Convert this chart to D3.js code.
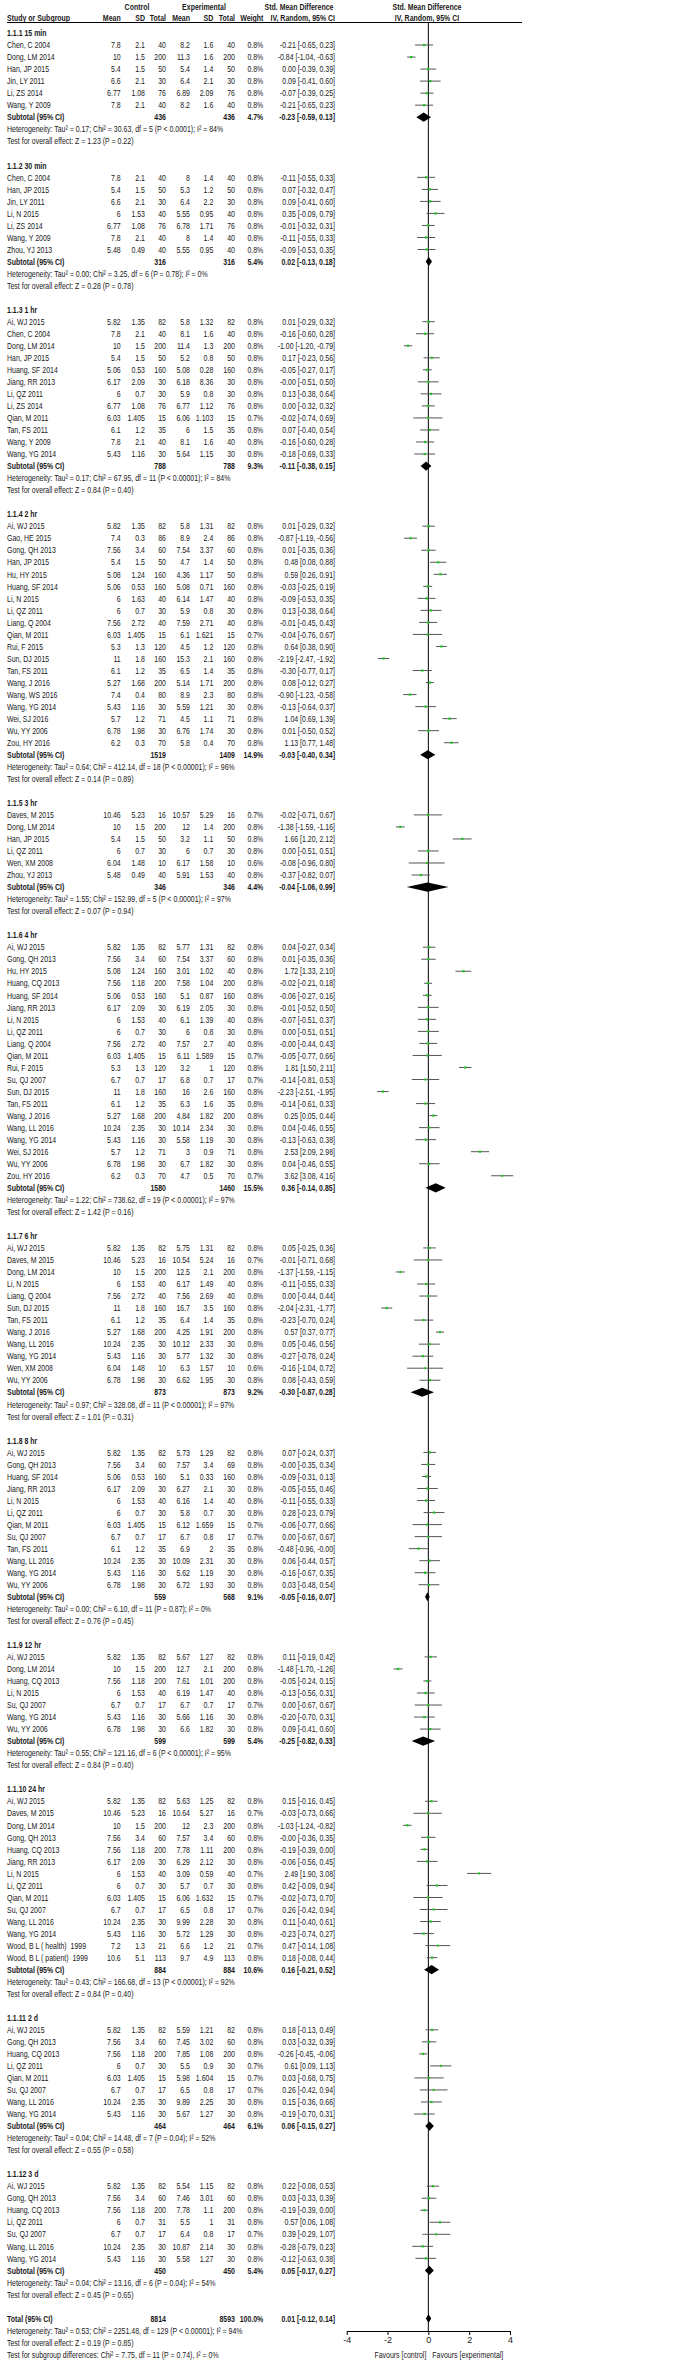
<!DOCTYPE html>
<html lang="en">
<head>
<meta charset="UTF-8">
<title>Std. Mean Difference forest plot</title>
<script src="https://d3js.org/d3.v7.min.js"></script>
<style>
  body { margin: 0; background: #fff; }
  svg text { font-family: "Liberation Sans", Arial, sans-serif; font-size: 9px; fill: #1a1a1a; white-space: pre; }
  .b { font-weight: bold; }
</style>
</head>
<body>
<svg width="689" height="2365"></svg>
<script>
// study, control mean, sd, total, experimental mean, sd, total, weight %, SMD, lower, upper
var min15 = [
  ["Chen, C 2004", 7.8, 2.1, 40, 8.2, 1.6, 40, 0.8, -0.21, -0.65, 0.23],
  ["Dong, LM 2014", 10, 1.5, 200, 11.3, 1.6, 200, 0.8, -0.84, -1.04, -0.63],
  ["Han, JP 2015", 5.4, 1.5, 50, 5.4, 1.4, 50, 0.8, 0, -0.39, 0.39],
  ["Jin, LY 2011", 6.6, 2.1, 30, 6.4, 2.1, 30, 0.8, 0.09, -0.41, 0.60],
  ["Li, ZS 2014", 6.77, 1.08, 76, 6.89, 2.09, 76, 0.8, -0.07, -0.39, 0.25],
  ["Wang, Y 2009", 7.8, 2.1, 40, 8.2, 1.6, 40, 0.8, -0.21, -0.65, 0.23]
];
var min30 = [
  ["Chen, C 2004", 7.8, 2.1, 40, 8, 1.4, 40, 0.8, -0.11, -0.55, 0.33],
  ["Han, JP 2015", 5.4, 1.5, 50, 5.3, 1.2, 50, 0.8, 0.07, -0.32, 0.47],
  ["Jin, LY 2011", 6.6, 2.1, 30, 6.4, 2.2, 30, 0.8, 0.09, -0.41, 0.60],
  ["Li, N 2015", 6, 1.53, 40, 5.55, 0.95, 40, 0.8, 0.35, -0.09, 0.79],
  ["Li, ZS 2014", 6.77, 1.08, 76, 6.78, 1.71, 76, 0.8, -0.01, -0.32, 0.31],
  ["Wang, Y 2009", 7.8, 2.1, 40, 8, 1.4, 40, 0.8, -0.11, -0.55, 0.33],
  ["Zhou, YJ 2013", 5.48, 0.49, 40, 5.55, 0.95, 40, 0.8, -0.09, -0.53, 0.35]
];
var hr1 = [
  ["Ai, WJ 2015", 5.82, 1.35, 82, 5.8, 1.32, 82, 0.8, 0.01, -0.29, 0.32],
  ["Chen, C 2004", 7.8, 2.1, 40, 8.1, 1.6, 40, 0.8, -0.16, -0.60, 0.28],
  ["Dong, LM 2014", 10, 1.5, 200, 11.4, 1.3, 200, 0.8, -1.00, -1.20, -0.79],
  ["Han, JP 2015", 5.4, 1.5, 50, 5.2, 0.8, 50, 0.8, 0.17, -0.23, 0.56],
  ["Huang, SF 2014", 5.06, 0.53, 160, 5.08, 0.28, 160, 0.8, -0.05, -0.27, 0.17],
  ["Jiang, RR 2013", 6.17, 2.09, 30, 6.18, 8.36, 30, 0.8, -0, -0.51, 0.50],
  ["Li, QZ 2011", 6, 0.7, 30, 5.9, 0.8, 30, 0.8, 0.13, -0.38, 0.64],
  ["Li, ZS 2014", 6.77, 1.08, 76, 6.77, 1.12, 76, 0.8, 0, -0.32, 0.32],
  ["Qian, M 2011", 6.03, 1.405, 15, 6.06, 1.103, 15, 0.7, -0.02, -0.74, 0.69],
  ["Tan, FS 2011", 6.1, 1.2, 35, 6, 1.5, 35, 0.8, 0.07, -0.40, 0.54],
  ["Wang, Y 2009", 7.8, 2.1, 40, 8.1, 1.6, 40, 0.8, -0.16, -0.60, 0.28],
  ["Wang, YG 2014", 5.43, 1.16, 30, 5.64, 1.15, 30, 0.8, -0.18, -0.69, 0.33]
];
var hr2 = [
  ["Ai, WJ 2015", 5.82, 1.35, 82, 5.8, 1.31, 82, 0.8, 0.01, -0.29, 0.32],
  ["Gao, HE 2015", 7.4, 0.3, 86, 8.9, 2.4, 86, 0.8, -0.87, -1.19, -0.56],
  ["Gong, QH 2013", 7.56, 3.4, 60, 7.54, 3.37, 60, 0.8, 0.01, -0.35, 0.36],
  ["Han, JP 2015", 5.4, 1.5, 50, 4.7, 1.4, 50, 0.8, 0.48, 0.08, 0.88],
  ["Hu, HY 2015", 5.08, 1.24, 160, 4.36, 1.17, 50, 0.8, 0.59, 0.26, 0.91],
  ["Huang, SF 2014", 5.06, 0.53, 160, 5.08, 0.71, 160, 0.8, -0.03, -0.25, 0.19],
  ["Li, N 2015", 6, 1.63, 40, 6.14, 1.47, 40, 0.8, -0.09, -0.53, 0.35],
  ["Li, QZ 2011", 6, 0.7, 30, 5.9, 0.8, 30, 0.8, 0.13, -0.38, 0.64],
  ["Liang, Q 2004", 7.56, 2.72, 40, 7.59, 2.71, 40, 0.8, -0.01, -0.45, 0.43],
  ["Qian, M 2011", 6.03, 1.405, 15, 6.1, 1.621, 15, 0.7, -0.04, -0.76, 0.67],
  ["Rui, F 2015", 5.3, 1.3, 120, 4.5, 1.2, 120, 0.8, 0.64, 0.38, 0.90],
  ["Sun, DJ 2015", 11, 1.8, 160, 15.3, 2.1, 160, 0.8, -2.19, -2.47, -1.92],
  ["Tan, FS 2011", 6.1, 1.2, 35, 6.5, 1.4, 35, 0.8, -0.30, -0.77, 0.17],
  ["Wang, J 2016", 5.27, 1.68, 200, 5.14, 1.71, 200, 0.8, 0.08, -0.12, 0.27],
  ["Wang, WS 2016", 7.4, 0.4, 80, 8.9, 2.3, 80, 0.8, -0.90, -1.23, -0.58],
  ["Wang, YG 2014", 5.43, 1.16, 30, 5.59, 1.21, 30, 0.8, -0.13, -0.64, 0.37],
  ["Wei, SJ 2016", 5.7, 1.2, 71, 4.5, 1.1, 71, 0.8, 1.04, 0.69, 1.39],
  ["Wu, YY 2006", 6.78, 1.98, 30, 6.76, 1.74, 30, 0.8, 0.01, -0.50, 0.52],
  ["Zou, HY 2016", 6.2, 0.3, 70, 5.8, 0.4, 70, 0.8, 1.13, 0.77, 1.48]
];
var hr3 = [
  ["Daves, M 2015", 10.46, 5.23, 16, 10.57, 5.29, 16, 0.7, -0.02, -0.71, 0.67],
  ["Dong, LM 2014", 10, 1.5, 200, 12, 1.4, 200, 0.8, -1.38, -1.59, -1.16],
  ["Han, JP 2015", 5.4, 1.5, 50, 3.2, 1.1, 50, 0.8, 1.66, 1.20, 2.12],
  ["Li, QZ 2011", 6, 0.7, 30, 6, 0.7, 30, 0.8, 0, -0.51, 0.51],
  ["Wen, XM 2008", 6.04, 1.48, 10, 6.17, 1.58, 10, 0.6, -0.08, -0.96, 0.80],
  ["Zhou, YJ 2013", 5.48, 0.49, 40, 5.91, 1.53, 40, 0.8, -0.37, -0.82, 0.07]
];
var hr4 = [
  ["Ai, WJ 2015", 5.82, 1.35, 82, 5.77, 1.31, 82, 0.8, 0.04, -0.27, 0.34],
  ["Gong, QH 2013", 7.56, 3.4, 60, 7.54, 3.37, 60, 0.8, 0.01, -0.35, 0.36],
  ["Hu, HY 2015", 5.08, 1.24, 160, 3.01, 1.02, 40, 0.8, 1.72, 1.33, 2.10],
  ["Huang, CQ 2013", 7.56, 1.18, 200, 7.58, 1.04, 200, 0.8, -0.02, -0.21, 0.18],
  ["Huang, SF 2014", 5.06, 0.53, 160, 5.1, 0.87, 160, 0.8, -0.06, -0.27, 0.16],
  ["Jiang, RR 2013", 6.17, 2.09, 30, 6.19, 2.05, 30, 0.8, -0.01, -0.52, 0.50],
  ["Li, N 2015", 6, 1.53, 40, 6.1, 1.39, 40, 0.8, -0.07, -0.51, 0.37],
  ["Li, QZ 2011", 6, 0.7, 30, 6, 0.8, 30, 0.8, 0, -0.51, 0.51],
  ["Liang, Q 2004", 7.56, 2.72, 40, 7.57, 2.7, 40, 0.8, -0, -0.44, 0.43],
  ["Qian, M 2011", 6.03, 1.405, 15, 6.11, 1.589, 15, 0.7, -0.05, -0.77, 0.66],
  ["Rui, F 2015", 5.3, 1.3, 120, 3.2, 1, 120, 0.8, 1.81, 1.50, 2.11],
  ["Su, QJ 2007", 6.7, 0.7, 17, 6.8, 0.7, 17, 0.7, -0.14, -0.81, 0.53],
  ["Sun, DJ 2015", 11, 1.8, 160, 16, 2.6, 160, 0.8, -2.23, -2.51, -1.95],
  ["Tan, FS 2011", 6.1, 1.2, 35, 6.3, 1.6, 35, 0.8, -0.14, -0.61, 0.33],
  ["Wang, J 2016", 5.27, 1.68, 200, 4.84, 1.82, 200, 0.8, 0.25, 0.05, 0.44],
  ["Wang, LL 2016", 10.24, 2.35, 30, 10.14, 2.34, 30, 0.8, 0.04, -0.46, 0.55],
  ["Wang, YG 2014", 5.43, 1.16, 30, 5.58, 1.19, 30, 0.8, -0.13, -0.63, 0.38],
  ["Wei, SJ 2016", 5.7, 1.2, 71, 3, 0.9, 71, 0.8, 2.53, 2.09, 2.98],
  ["Wu, YY 2006", 6.78, 1.98, 30, 6.7, 1.82, 30, 0.8, 0.04, -0.46, 0.55],
  ["Zou, HY 2016", 6.2, 0.3, 70, 4.7, 0.5, 70, 0.7, 3.62, 3.08, 4.16]
];
var hr6 = [
  ["Ai, WJ 2015", 5.82, 1.35, 82, 5.75, 1.31, 82, 0.8, 0.05, -0.25, 0.36],
  ["Daves, M 2015", 10.46, 5.23, 16, 10.54, 5.24, 16, 0.7, -0.01, -0.71, 0.68],
  ["Dong, LM 2014", 10, 1.5, 200, 12.5, 2.1, 200, 0.8, -1.37, -1.59, -1.15],
  ["Li, N 2015", 6, 1.53, 40, 6.17, 1.49, 40, 0.8, -0.11, -0.55, 0.33],
  ["Liang, Q 2004", 7.56, 2.72, 40, 7.56, 2.69, 40, 0.8, 0, -0.44, 0.44],
  ["Sun, DJ 2015", 11, 1.8, 160, 16.7, 3.5, 160, 0.8, -2.04, -2.31, -1.77],
  ["Tan, FS 2011", 6.1, 1.2, 35, 6.4, 1.4, 35, 0.8, -0.23, -0.70, 0.24],
  ["Wang, J 2016", 5.27, 1.68, 200, 4.25, 1.91, 200, 0.8, 0.57, 0.37, 0.77],
  ["Wang, LL 2016", 10.24, 2.35, 30, 10.12, 2.33, 30, 0.8, 0.05, -0.46, 0.56],
  ["Wang, YG 2014", 5.43, 1.16, 30, 5.77, 1.32, 30, 0.8, -0.27, -0.78, 0.24],
  ["Wen, XM 2008", 6.04, 1.48, 10, 6.3, 1.57, 10, 0.6, -0.16, -1.04, 0.72],
  ["Wu, YY 2006", 6.78, 1.98, 30, 6.62, 1.95, 30, 0.8, 0.08, -0.43, 0.59]
];
var hr8 = [
  ["Ai, WJ 2015", 5.82, 1.35, 82, 5.73, 1.29, 82, 0.8, 0.07, -0.24, 0.37],
  ["Gong, QH 2013", 7.56, 3.4, 60, 7.57, 3.4, 69, 0.8, -0, -0.35, 0.34],
  ["Huang, SF 2014", 5.06, 0.53, 160, 5.1, 0.33, 160, 0.8, -0.09, -0.31, 0.13],
  ["Jiang, RR 2013", 6.17, 2.09, 30, 6.27, 2.1, 30, 0.8, -0.05, -0.55, 0.46],
  ["Li, N 2015", 6, 1.53, 40, 6.16, 1.4, 40, 0.8, -0.11, -0.55, 0.33],
  ["Li, QZ 2011", 6, 0.7, 30, 5.8, 0.7, 30, 0.8, 0.28, -0.23, 0.79],
  ["Qian, M 2011", 6.03, 1.405, 15, 6.12, 1.659, 15, 0.7, -0.06, -0.77, 0.66],
  ["Su, QJ 2007", 6.7, 0.7, 17, 6.7, 0.8, 17, 0.7, 0, -0.67, 0.67],
  ["Tan, FS 2011", 6.1, 1.2, 35, 6.9, 2, 35, 0.8, -0.48, -0.96, -0],
  ["Wang, LL 2016", 10.24, 2.35, 30, 10.09, 2.31, 30, 0.8, 0.06, -0.44, 0.57],
  ["Wang, YG 2014", 5.43, 1.16, 30, 5.62, 1.19, 30, 0.8, -0.16, -0.67, 0.35],
  ["Wu, YY 2006", 6.78, 1.98, 30, 6.72, 1.93, 30, 0.8, 0.03, -0.48, 0.54]
];
var hr12 = [
  ["Ai, WJ 2015", 5.82, 1.35, 82, 5.67, 1.27, 82, 0.8, 0.11, -0.19, 0.42],
  ["Dong, LM 2014", 10, 1.5, 200, 12.7, 2.1, 200, 0.8, -1.48, -1.70, -1.26],
  ["Huang, CQ 2013", 7.56, 1.18, 200, 7.61, 1.01, 200, 0.8, -0.05, -0.24, 0.15],
  ["Li, N 2015", 6, 1.53, 40, 6.19, 1.47, 40, 0.8, -0.13, -0.56, 0.31],
  ["Su, QJ 2007", 6.7, 0.7, 17, 6.7, 0.7, 17, 0.7, 0, -0.67, 0.67],
  ["Wang, YG 2014", 5.43, 1.16, 30, 5.66, 1.16, 30, 0.8, -0.20, -0.70, 0.31],
  ["Wu, YY 2006", 6.78, 1.98, 30, 6.6, 1.82, 30, 0.8, 0.09, -0.41, 0.60]
];
var hr24 = [
  ["Ai, WJ 2015", 5.82, 1.35, 82, 5.63, 1.25, 82, 0.8, 0.15, -0.16, 0.45],
  ["Daves, M 2015", 10.46, 5.23, 16, 10.64, 5.27, 16, 0.7, -0.03, -0.73, 0.66],
  ["Dong, LM 2014", 10, 1.5, 200, 12, 2.3, 200, 0.8, -1.03, -1.24, -0.82],
  ["Gong, QH 2013", 7.56, 3.4, 60, 7.57, 3.4, 60, 0.8, -0, -0.36, 0.35],
  ["Huang, CQ 2013", 7.56, 1.18, 200, 7.78, 1.11, 200, 0.8, -0.19, -0.39, 0],
  ["Jiang, RR 2013", 6.17, 2.09, 30, 6.29, 2.12, 30, 0.8, -0.06, -0.56, 0.45],
  ["Li, N 2015", 6, 1.53, 40, 3.09, 0.59, 40, 0.7, 2.49, 1.90, 3.08],
  ["Li, QZ 2011", 6, 0.7, 30, 5.7, 0.7, 30, 0.8, 0.42, -0.09, 0.94],
  ["Qian, M 2011", 6.03, 1.405, 15, 6.06, 1.632, 15, 0.7, -0.02, -0.73, 0.70],
  ["Su, QJ 2007", 6.7, 0.7, 17, 6.5, 0.8, 17, 0.7, 0.26, -0.42, 0.94],
  ["Wang, LL 2016", 10.24, 2.35, 30, 9.99, 2.28, 30, 0.8, 0.11, -0.40, 0.61],
  ["Wang, YG 2014", 5.43, 1.16, 30, 5.72, 1.29, 30, 0.8, -0.23, -0.74, 0.27],
  ["Wood, B L ( health)  1999", 7.2, 1.3, 21, 6.6, 1.2, 21, 0.7, 0.47, -0.14, 1.08],
  ["Wood, B L ( patient)  1999", 10.6, 5.1, 113, 9.7, 4.9, 113, 0.8, 0.18, -0.08, 0.44]
];
var day2 = [
  ["Ai, WJ 2015", 5.82, 1.35, 82, 5.59, 1.21, 82, 0.8, 0.18, -0.13, 0.49],
  ["Gong, QH 2013", 7.56, 3.4, 60, 7.45, 3.02, 60, 0.8, 0.03, -0.32, 0.39],
  ["Huang, CQ 2013", 7.56, 1.18, 200, 7.85, 1.08, 200, 0.8, -0.26, -0.45, -0.06],
  ["Li, QZ 2011", 6, 0.7, 30, 5.5, 0.9, 30, 0.7, 0.61, 0.09, 1.13],
  ["Qian, M 2011", 6.03, 1.405, 15, 5.98, 1.604, 15, 0.7, 0.03, -0.68, 0.75],
  ["Su, QJ 2007", 6.7, 0.7, 17, 6.5, 0.8, 17, 0.7, 0.26, -0.42, 0.94],
  ["Wang, LL 2016", 10.24, 2.35, 30, 9.89, 2.25, 30, 0.8, 0.15, -0.36, 0.66],
  ["Wang, YG 2014", 5.43, 1.16, 30, 5.67, 1.27, 30, 0.8, -0.19, -0.70, 0.31]
];
var day3 = [
  ["Ai, WJ 2015", 5.82, 1.35, 82, 5.54, 1.15, 82, 0.8, 0.22, -0.08, 0.53],
  ["Gong, QH 2013", 7.56, 3.4, 60, 7.46, 3.01, 60, 0.8, 0.03, -0.33, 0.39],
  ["Huang, CQ 2013", 7.56, 1.18, 200, 7.78, 1.1, 200, 0.8, -0.19, -0.39, 0],
  ["Li, QZ 2011", 6, 0.7, 31, 5.5, 1, 31, 0.8, 0.57, 0.06, 1.08],
  ["Su, QJ 2007", 6.7, 0.7, 17, 6.4, 0.8, 17, 0.7, 0.39, -0.29, 1.07],
  ["Wang, LL 2016", 10.24, 2.35, 30, 10.87, 2.14, 30, 0.8, -0.28, -0.79, 0.23],
  ["Wang, YG 2014", 5.43, 1.16, 30, 5.58, 1.27, 30, 0.8, -0.12, -0.63, 0.38]
];

var subgroups = ["1.1.1 15 min", "1.1.2 30 min", "1.1.3 1 hr", "1.1.4 2 hr", "1.1.5 3 hr", "1.1.6 4 hr",
  "1.1.7 6 hr", "1.1.8 8 hr", "1.1.9 12 hr", "1.1.10 24 hr", "1.1.11 2 d", "1.1.12 3 d"];
var groupStudies = [min15, min30, hr1, hr2, hr3, hr4, hr6, hr8, hr12, hr24, day2, day3];
// control total, experimental total, weight %, SMD, lower, upper
var subtotals = [
  [436, 436, 4.7, -0.23, -0.59, 0.13],
  [316, 316, 5.4, 0.02, -0.13, 0.18],
  [788, 788, 9.3, -0.11, -0.38, 0.15],
  [1519, 1409, 14.9, -0.03, -0.40, 0.34],
  [346, 346, 4.4, -0.04, -1.06, 0.99],
  [1580, 1460, 15.5, 0.36, -0.14, 0.85],
  [873, 873, 9.2, -0.30, -0.87, 0.28],
  [559, 568, 9.1, -0.05, -0.16, 0.07],
  [599, 599, 5.4, -0.25, -0.82, 0.33],
  [884, 884, 10.6, 0.16, -0.21, 0.52],
  [464, 464, 6.1, 0.06, -0.15, 0.27],
  [450, 450, 5.4, 0.05, -0.17, 0.27]
];
var heterogeneity = [
  "Tau² = 0.17; Chi² = 30.63, df = 5 (P < 0.0001); I² = 84%",
  "Tau² = 0.00; Chi² = 3.25, df = 6 (P = 0.78); I² = 0%",
  "Tau² = 0.17; Chi² = 67.95, df = 11 (P < 0.00001); I² = 84%",
  "Tau² = 0.64; Chi² = 412.14, df = 18 (P < 0.00001); I² = 96%",
  "Tau² = 1.55; Chi² = 152.99, df = 5 (P < 0.00001); I² = 97%",
  "Tau² = 1.22; Chi² = 738.62, df = 19 (P < 0.00001); I² = 97%",
  "Tau² = 0.97; Chi² = 328.08, df = 11 (P < 0.00001); I² = 97%",
  "Tau² = 0.00; Chi² = 6.10, df = 11 (P = 0.87); I² = 0%",
  "Tau² = 0.55; Chi² = 121.16, df = 6 (P < 0.00001); I² = 95%",
  "Tau² = 0.43; Chi² = 166.68, df = 13 (P < 0.00001); I² = 92%",
  "Tau² = 0.04; Chi² = 14.48, df = 7 (P = 0.04); I² = 52%",
  "Tau² = 0.04; Chi² = 13.16, df = 6 (P = 0.04); I² = 54%"
];
var overallEffect = ["Z = 1.23 (P = 0.22)", "Z = 0.28 (P = 0.78)", "Z = 0.84 (P = 0.40)", "Z = 0.14 (P = 0.89)",
  "Z = 0.07 (P = 0.94)", "Z = 1.42 (P = 0.16)", "Z = 1.01 (P = 0.31)", "Z = 0.76 (P = 0.45)",
  "Z = 0.84 (P = 0.40)", "Z = 0.84 (P = 0.40)", "Z = 0.55 (P = 0.58)", "Z = 0.45 (P = 0.65)"];
var total = [8814, 8593, 100.0, 0.01, -0.12, 0.14];
var totalNotes = [
  "Heterogeneity: Tau² = 0.53; Chi² = 2251.48, df = 129 (P < 0.00001); I² = 94%",
  "Test for overall effect: Z = 0.19 (P = 0.85)",
  "Test for subgroup differences: Chi² = 7.75, df = 11 (P = 0.74), I² = 0%"
];
var xTicks = [-4, -2, 0, 2, 4];

(function() {
    var svg = d3.select("svg");
    var squeeze = 0.775; // narrow face look

    // text helper: condensed horizontally around its anchor point
    function txt(parent, x, y, s, anchor, bold) {
        return parent.append("text")
            .attr("transform", "translate(" + x + "," + y + ") scale(" + squeeze + ",1)")
            .attr("text-anchor", anchor || "start")
            .classed("b", !!bold)
            .text(s);
    }

    // build the list of table rows
    var rows = [];
    subgroups.forEach(function(label, i) {
        rows.push({ kind: "head", label: label });
        groupStudies[i].forEach(function(s) { rows.push({ kind: "study", s: s }); });
        rows.push({ kind: "sub", s: subtotals[i] });
        rows.push({ kind: "note", label: "Heterogeneity: " + heterogeneity[i] });
        rows.push({ kind: "note", label: "Test for overall effect: " + overallEffect[i] });
        rows.push({ kind: "blank" });
    });
    rows.push({ kind: "total", s: total });
    totalNotes.forEach(function(t) { rows.push({ kind: "note", label: t }); });
    rows.forEach(function(r, i) { r.i = i; });

    var totalIndex = rows.findIndex(function(r) { return r.kind === "total"; });

    var y = d3.scaleLinear().domain([0, totalIndex]).range([33, 2318.5]);
    var x = d3.scaleLinear().domain([-4, 4]).range([346.7, 510]);

    var nameX = 7;
    var cols = [120.7, 145, 166, 190, 213.3, 235, 263.3, 335];

    function fmt2(v) { return (Object.is(v, -0) ? "-" : "") + v.toFixed(2); }
    function ci(a) { return fmt2(a[0]) + " [" + fmt2(a[1]) + ", " + fmt2(a[2]) + "]"; }

    // header
    var head = svg.append("g");
    [["Control", 137, 9.5], ["Experimental", 204, 9.5], ["Std. Mean Difference", 299, 9.5],
     ["Std. Mean Difference", 427, 9.5], ["IV, Random, 95% CI", 427, 21]].forEach(function(h) {
        txt(head, h[1], h[2], h[0], "middle", true);
    });
    txt(head, nameX, 21, "Study or Subgroup", "start", true);
    ["Mean", "SD", "Total", "Mean", "SD", "Total", "Weight", "IV, Random, 95% CI"].forEach(function(h, i) {
        txt(head, cols[i], 21, h, "end", true);
    });
    svg.append("line").attr("x1", nameX).attr("x2", 522).attr("y1", 22.5).attr("y2", 22.5)
        .attr("stroke", "#000").attr("stroke-width", 1);

    // zero line
    svg.append("line").attr("x1", x(0)).attr("x2", x(0)).attr("y1", 22.5).attr("y2", 2331)
        .attr("stroke", "#000").attr("stroke-width", 1);

    var g = svg.append("g");

    rows.forEach(function(r) {
        var cy = y(r.i), ty = cy + 3.2;
        if (r.kind === "head") {
            txt(g, nameX, ty, r.label, "start", true);
        } else if (r.kind === "note") {
            txt(g, nameX, ty, r.label);
        } else if (r.kind === "study") {
            var s = r.s;
            txt(g, nameX, ty, s[0]);
            var vals = [s[1], s[2], s[3], s[4], s[5], s[6]].map(String)
                .concat([s[7].toFixed(1) + "%", ci(s.slice(8))]);
            vals.forEach(function(v, j) { txt(g, cols[j], ty, v, "end"); });
            g.append("line").attr("x1", x(s[9])).attr("x2", x(s[10])).attr("y1", cy).attr("y2", cy)
                .attr("stroke", "#555").attr("stroke-width", 1);
            var side = 2.2 * Math.sqrt(s[7] / 0.8);
            g.append("rect").attr("x", x(s[8]) - side / 2).attr("y", cy - side / 2)
                .attr("width", side).attr("height", side).attr("fill", "#1fc41f");
        } else if (r.kind === "sub" || r.kind === "total") {
            var t = r.s;
            txt(g, nameX, ty, r.kind === "sub" ? "Subtotal (95% CI)" : "Total (95% CI)", "start", true);
            [[2, String(t[0])], [5, String(t[1])], [6, t[2].toFixed(1) + "%"], [7, ci(t.slice(3))]].forEach(function(c) {
                txt(g, cols[c[0]], ty, c[1], "end", true);
            });
            var hh = 4.6;
            g.append("path")
                .attr("d", "M" + x(t[4]) + "," + cy + "L" + x(t[3]) + "," + (cy - hh) + "L" + x(t[5]) + "," + cy +
                    "L" + x(t[3]) + "," + (cy + hh) + "Z")
                .attr("fill", "#000");
        }
    });

    // axis
    var axis = svg.append("g").attr("transform", "translate(0,2331)")
        .call(d3.axisBottom(x).tickValues(xTicks).tickSize(4).tickSizeOuter(0)
            .tickFormat(function(d) { return String(d); }));
    axis.select(".domain").attr("stroke", "#000");
    axis.selectAll("text").attr("font-family", null).attr("font-size", null).attr("dy", "0.6em");

    txt(svg, x(0) - 2, 2358, "Favours [control]", "end");
    txt(svg, x(0) + 4, 2358, "Favours [experimental]", "start");
})();
</script>
</body>
</html>
